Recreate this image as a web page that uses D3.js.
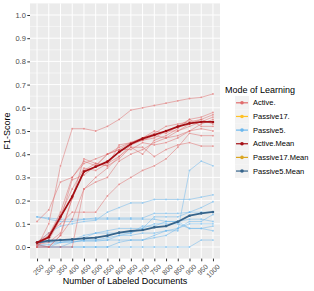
<!DOCTYPE html>
<html>
<head>
<meta charset="utf-8">
<script src="https://cdn.jsdelivr.net/npm/d3@7"></script>
<style>
  body { margin: 0; background: #fff; }
  text { font-family: "Liberation Sans", Arial, sans-serif; }
</style>
</head>
<body>
<script>
// categories (number of labeled documents)
const docs = [250, 300, 350, 400, 450, 500, 550, 600, 650, 700, 750, 800, 850, 900, 950, 1000]
const yTicks = [0, 0.1, 0.2, 0.3, 0.4, 0.5, 0.6, 0.7, 0.8, 0.9, 1.0]

// runs of active learning
const active1 = [0.00, 0.10, 0.35, 0.51, 0.51, 0.50, 0.52, 0.55, 0.59, 0.60, 0.61, 0.62, 0.63, 0.64, 0.645, 0.66]
const active2 = [0.11, 0.16, 0.28, 0.30, 0.36, 0.38, 0.40, 0.43, 0.45, 0.46, 0.47, 0.50, 0.50, 0.53, 0.55, 0.57]
const active3 = [0.02, 0.05, 0.14, 0.25, 0.34, 0.33, 0.36, 0.39, 0.44, 0.46, 0.48, 0.47, 0.50, 0.52, 0.54, 0.56]
const active4 = [0.01, 0.00, 0.05, 0.21, 0.38, 0.36, 0.35, 0.44, 0.45, 0.47, 0.50, 0.49, 0.52, 0.55, 0.52, 0.52]
const active5 = [0.01, 0.03, 0.12, 0.29, 0.31, 0.35, 0.40, 0.42, 0.42, 0.45, 0.44, 0.45, 0.47, 0.50, 0.51, 0.50]
const active6 = [0.00, 0.00, 0.00, 0.00, 0.25, 0.30, 0.34, 0.39, 0.43, 0.40, 0.46, 0.48, 0.51, 0.55, 0.56, 0.58]
const active7 = [0.02, 0.06, 0.10, 0.15, 0.15, 0.15, 0.22, 0.27, 0.30, 0.33, 0.35, 0.38, 0.43, 0.49, 0.48, 0.48]
const active8 = [0.00, 0.00, 0.05, 0.12, 0.25, 0.28, 0.30, 0.37, 0.40, 0.42, 0.45, 0.47, 0.48, 0.50, 0.53, 0.55]
const active9 = [0.01, 0.02, 0.06, 0.21, 0.33, 0.36, 0.35, 0.38, 0.43, 0.43, 0.39, 0.42, 0.44, 0.45, 0.435, 0.435]
const active10 = [0.00, 0.05, 0.15, 0.30, 0.37, 0.35, 0.40, 0.42, 0.45, 0.47, 0.49, 0.52, 0.53, 0.54, 0.55, 0.53]

// runs of passive learning (5)
const passive1 = [0.13, 0.125, 0.12, 0.12, 0.12, 0.125, 0.125, 0.125, 0.125, 0.125, 0.145, 0.145, 0.145, 0.15, 0.15, 0.15]
const passive2 = [0.02, 0.06, 0.09, 0.10, 0.11, 0.115, 0.15, 0.17, 0.19, 0.19, 0.205, 0.205, 0.205, 0.205, 0.215, 0.225]
const passive3 = [0.01, 0.00, 0.00, 0.02, 0.03, 0.03, 0.04, 0.05, 0.05, 0.06, 0.06, 0.07, 0.07, 0.33, 0.37, 0.35]
const passive4 = [0.02, 0.02, 0.03, 0.03, 0.05, 0.06, 0.07, 0.08, 0.08, 0.08, 0.13, 0.13, 0.13, 0.15, 0.17, 0.195]
const passive5 = [0.00, 0.00, 0.00, 0.00, 0.00, 0.00, 0.00, 0.00, 0.00, 0.00, 0.00, 0.00, 0.00, 0.00, 0.03, 0.03]
const passive6 = [0.01, 0.01, 0.02, 0.02, 0.03, 0.03, 0.03, 0.03, 0.03, 0.03, 0.05, 0.07, 0.08, 0.10, 0.10, 0.10]
const passive7 = [0.02, 0.02, 0.02, 0.025, 0.025, 0.025, 0.03, 0.05, 0.06, 0.09, 0.09, 0.11, 0.11, 0.08, 0.08, 0.07]
const passive8 = [0.00, 0.00, 0.00, 0.00, 0.00, 0.00, 0.00, 0.02, 0.03, 0.03, 0.04, 0.05, 0.08, 0.11, 0.11, 0.14]
const passive9 = [0.01, 0.00, 0.02, 0.03, 0.04, 0.06, 0.06, 0.06, 0.06, 0.08, 0.10, 0.10, 0.10, 0.08, 0.08, 0.09]
const passive10 = [0.13, 0.12, 0.11, 0.11, 0.12, 0.12, 0.12, 0.12, 0.12, 0.12, 0.12, 0.11, 0.11, 0.12, 0.12, 0.11]

// means
const activeMean = [0.019, 0.042, 0.13, 0.217, 0.325, 0.346, 0.368, 0.41, 0.444, 0.467, 0.483, 0.50, 0.519, 0.533, 0.539, 0.539]
const passiveMean = [0.019, 0.027, 0.03, 0.033, 0.037, 0.04, 0.049, 0.062, 0.069, 0.073, 0.085, 0.09, 0.109, 0.135, 0.145, 0.151]

const legendLabels = ["Active.", "Passive17.", "Passive5.", "Active.Mean", "Passive17.Mean", "Passive5.Mean"]
const legendColors = ["#e06c6c", "#ffc125", "#6cb8ee", "#a50f15", "#daa520", "#36648b"]

const activeRuns = [active1, active2, active3, active4, active5, active6, active7, active8, active9, active10]
const passiveRuns = [passive1, passive2, passive3, passive4, passive5, passive6, passive7, passive8, passive9, passive10]

const W = 314, H = 291
const svg = d3.select("body").append("svg")
    .attr("width", W)
    .attr("height", H)

// panel
const pLeft = 30, pRight = 220, pTop = 3.4, pBottom = 258.6

const x = d3.scalePoint()
    .domain(docs)
    .range([pLeft, pRight])
    .padding(0.6)

const y = d3.scaleLinear()
    .domain([-0.05, 1.05])
    .range([pBottom, pTop])

svg.append("rect")
    .attr("x", pLeft).attr("y", pTop)
    .attr("width", pRight - pLeft).attr("height", pBottom - pTop)
    .attr("fill", "#ebebeb")

// grille mineure puis majeure
const minor = d3.range(0.05, 1.0, 0.1)
svg.append("g").selectAll("line")
    .data(minor)
    .enter().append("line")
    .attr("x1", pLeft).attr("x2", pRight)
    .attr("y1", d => y(d)).attr("y2", d => y(d))
    .attr("stroke", "#fff").attr("stroke-width", 0.5)

svg.append("g").selectAll("line")
    .data(yTicks)
    .enter().append("line")
    .attr("x1", pLeft).attr("x2", pRight)
    .attr("y1", d => y(d)).attr("y2", d => y(d))
    .attr("stroke", "#fff").attr("stroke-width", 1)

svg.append("g").selectAll("line")
    .data(docs)
    .enter().append("line")
    .attr("x1", d => x(d)).attr("x2", d => x(d))
    .attr("y1", pTop).attr("y2", pBottom)
    .attr("stroke", "#fff").attr("stroke-width", 1)

// axes
const yAxis = svg.append("g")
    .attr("transform", `translate(${pLeft},0)`)
    .call(d3.axisLeft(y).tickValues(yTicks).tickFormat(d3.format(".1f")).tickSize(2.7).tickPadding(1.5))
yAxis.select(".domain").remove()
yAxis.selectAll("line").attr("stroke", "#333")
yAxis.selectAll("text").attr("fill", "#4d4d4d").style("font-size", "7.5px")

const xAxis = svg.append("g")
    .attr("transform", `translate(0,${pBottom})`)
    .call(d3.axisBottom(x).tickSize(2.7).tickPadding(1.5))
xAxis.select(".domain").remove()
xAxis.selectAll("line").attr("stroke", "#333")
xAxis.selectAll("text")
    .attr("fill", "#4d4d4d")
    .style("font-size", "7px")
    .attr("text-anchor", "end")
    .attr("dy", "0.35em")
    .attr("transform", "translate(2,4) rotate(-45)")

const line = d3.line()
    .x((d, i) => x(docs[i]))
    .y(d => y(d))

function drawRun(data, color, width, r, opacity) {
    const g = svg.append("g").attr("opacity", opacity)
    g.append("path")
        .attr("d", line(data))
        .attr("fill", "none")
        .attr("stroke", color)
        .attr("stroke-width", width)
    g.selectAll("circle")
        .data(data)
        .enter().append("circle")
        .attr("cx", (d, i) => x(docs[i]))
        .attr("cy", d => y(d))
        .attr("r", r)
        .attr("fill", color)
}

passiveRuns.forEach(run => drawRun(run, legendColors[2], 0.7, 0.9, 0.7))
activeRuns.forEach(run => drawRun(run, legendColors[0], 0.7, 0.9, 0.7))
drawRun(passiveMean, legendColors[5], 1.8, 1.3, 1)
drawRun(activeMean, legendColors[3], 1.8, 1.3, 1)

// titres des axes
svg.append("text")
    .attr("x", (pLeft + pRight) / 2)
    .attr("y", 284)
    .attr("text-anchor", "middle")
    .style("font-size", "9px")
    .text("Number of Labeled Documents")

svg.append("text")
    .attr("transform", `translate(10,${(pTop + pBottom) / 2}) rotate(-90)`)
    .attr("text-anchor", "middle")
    .style("font-size", "9px")
    .text("F1-Score")

// légende
svg.append("text")
    .attr("x", 225)
    .attr("y", 93)
    .style("font-size", "9px")
    .text("Mode of Learning")

const legend = svg.append("g").selectAll("g")
    .data(legendLabels)
    .enter().append("g")
    .attr("transform", (d, i) => `translate(235,${96 + i * 13.65})`)

legend.append("rect")
    .attr("width", 14).attr("height", 13.65)
    .attr("fill", "#f2f2f2")

legend.append("line")
    .attr("x1", 1).attr("x2", 13)
    .attr("y1", 6.8).attr("y2", 6.8)
    .attr("stroke", (d, i) => legendColors[i])
    .attr("stroke-width", 1.2)

legend.append("circle")
    .attr("cx", 7).attr("cy", 6.8).attr("r", 1.8)
    .attr("fill", (d, i) => legendColors[i])

legend.append("text")
    .attr("x", 18)
    .attr("y", 6.8)
    .attr("dy", "0.35em")
    .style("font-size", "7.5px")
    .text(d => d)
</script>
</body>
</html>
